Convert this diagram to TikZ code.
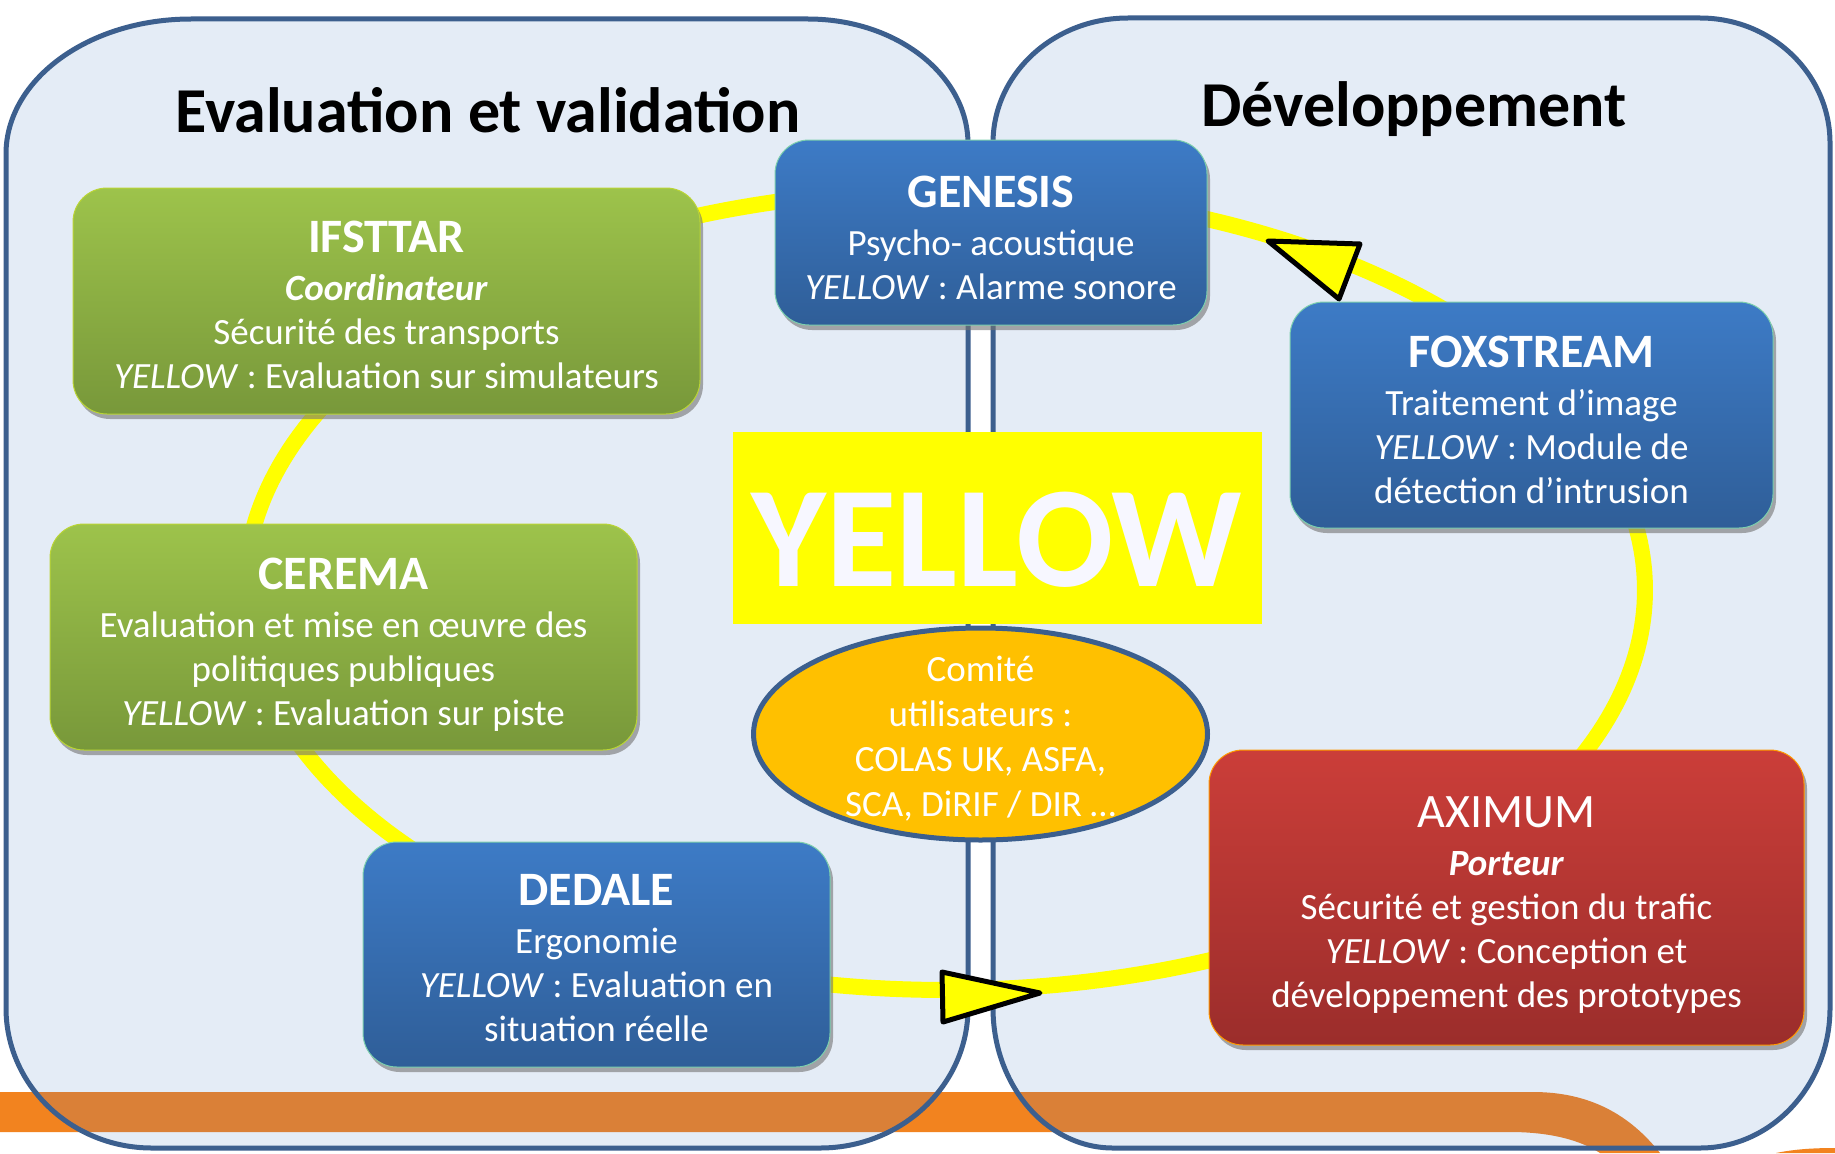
\documentclass[tikz,border=0pt]{standalone}
\usepackage{fontspec}
\setmainfont{Carlito}
\usetikzlibrary{shapes.geometric,shadows}

\definecolor{panelfill}{HTML}{E4ECF6}
\definecolor{panelline}{HTML}{3C5F8E}
\definecolor{bandout}{HTML}{F2831F}
\definecolor{bandin}{HTML}{DA8037}
\definecolor{ringyellow}{HTML}{FFFF00}
\definecolor{greentop}{HTML}{9DC34B}
\definecolor{greenbot}{HTML}{78983A}
\definecolor{bluetop}{HTML}{3D7BC6}
\definecolor{bluebot}{HTML}{2F5E98}
\definecolor{redtop}{HTML}{CB3E39}
\definecolor{redbot}{HTML}{9B2D2B}
\definecolor{comitefill}{HTML}{FFC000}

\newcommand{\txtbody}{\fontsize{37}{44}\selectfont}
\newcommand{\txthead}{\fontsize{48}{44}\selectfont\bfseries}

% outlines of the two large panels (pixel grid, y pointing down)
\newcommand{\leftpanel}{(191,19) -- (808,19) .. controls (896.4,19) and (968,75) .. (968,144)
  -- (968,1008) .. controls (968,1085.3) and (901.7,1148) .. (820,1148)
  -- (152,1148) .. controls (71.4,1148) and (6,1085.3) .. (6,1008)
  -- (6,154) .. controls (6,79.4) and (88.8,19) .. (191,19) -- cycle}
\newcommand{\rightpanel}{(1128,18) -- (1700,18) .. controls (1771.8,18) and (1830,74) .. (1830,143)
  -- (1830,1008) .. controls (1830,1085.3) and (1771.8,1148) .. (1700,1148)
  -- (1113,1148) .. controls (1046.7,1148) and (993,1085.3) .. (993,1008)
  -- (993,143) .. controls (993,74) and (1053.4,18) .. (1128,18) -- cycle}
% orange band running along the bottom
\newcommand{\orangeband}{(0,1092) -- (1533,1092) .. controls (1590,1092) and (1630,1115) .. (1660,1153)
  -- (1600,1153) .. controls (1580,1140) and (1550,1132) .. (1510,1132) -- (0,1132) -- cycle}
% one stretch of the yellow ring, between two angles
\newcommand{\ringpart}[2]{plot[domain=#1:#2, samples=40] ({945+700*cos(\x)},{590+400*sin(\x)})}

\tikzset{
  panel/.style={draw=panelline, line width=5pt},
  ringline/.style={draw=ringyellow, line width=16pt},
  orgbox/.style={rectangle, rounded corners=34pt, inner sep=0pt, line width=1pt,
    drop shadow={shadow xshift=3pt, shadow yshift=-5pt, fill=black!55, opacity=0.6}},
  greenbox/.style={orgbox, top color=greentop, bottom color=greenbot, draw=greentop!70!yellow},
  bluebox/.style={orgbox, top color=bluetop, bottom color=bluebot, draw=bluetop!60!green!60!white},
  redbox/.style={orgbox, top color=redtop, bottom color=redbot, draw=orange!80!yellow},
  boxtext/.style={align=center, text=white, font=\txtbody, inner sep=0pt},
  paneltitle/.style={anchor=base, font=\fontsize{64}{66}\selectfont\bfseries, text=black, inner sep=0pt},
  tri/.style={fill=ringyellow, draw=black, line width=5pt, line join=round}
}

\begin{document}
\begin{tikzpicture}[x=1pt,y=-1pt]
\useasboundingbox (0,0) rectangle (1835,1153);
\fill[white] (0,0) rectangle (1835,1153);

% bottom band, then panels over it
\fill[bandout] \orangeband;
\fill[bandout] (1776,1153) .. controls (1795,1149) and (1815,1148) .. (1835,1148) -- (1835,1153) -- cycle;
\fill[panelfill] \leftpanel;
\fill[panelfill] \rightpanel;
\begin{scope}
  \clip \leftpanel;
  \fill[bandin] \orangeband;
\end{scope}
\begin{scope}
  \clip \rightpanel;
  \fill[bandin] \orangeband;
\end{scope}
\draw[panel] \leftpanel;
\draw[panel] \rightpanel;

% panel titles
\node[paneltitle] (evaltitle) at (488,132) {Evaluation et validation};
\node[paneltitle] (devtitle) at (1414,126) {Développement};

% yellow ring linking the partners; each stretch ends under the boxes it joins
\draw[ringline] \ringpart{240}{265};  % IFSTTAR - GENESIS
\draw[ringline] \ringpart{285}{320};  % GENESIS - FOXSTREAM
\draw[ringline] \ringpart{-10}{30};   % FOXSTREAM - AXIMUM
\draw[ringline] \ringpart{60}{105};   % AXIMUM - DEDALE
\draw[ringline] \ringpart{125}{160};  % DEDALE - CEREMA
\draw[ringline] \ringpart{175}{220};  % CEREMA - IFSTTAR

% partner boxes
\node[greenbox, minimum width=627, minimum height=226] (ifsttar) at (386.5,301) {};
\node[bluebox, minimum width=432, minimum height=185] (genesis) at (991,232.5) {};
\node[bluebox, minimum width=483, minimum height=226] (foxstream) at (1531.5,415) {};
\node[greenbox, minimum width=587, minimum height=226] (cerema) at (343.5,637) {};
\node[bluebox, minimum width=467, minimum height=225] (dedale) at (596.5,954.5) {};
\node[redbox, minimum width=595, minimum height=295] (aximum) at (1506.5,897.5) {};

% central label and users' committee
\node[fill=ringyellow, minimum width=529, minimum height=192, inner sep=0pt] (yellowbox) at (997.5,528) {};
\node[anchor=base, text=white!97!blue, font=\fontsize{144}{144}\selectfont\bfseries, inner sep=0pt] (yellowword) at (997,586) {YELLOW};
\node[ellipse, fill=comitefill, draw=panelline, line width=5pt, minimum width=454, minimum height=212, inner sep=0pt] (comite) at (980.5,734) {};
\node[boxtext, font=\fontsize{37}{45}\selectfont] (comite-txt) at ([yshift=-4.5pt]comite.center) {Comité\\utilisateurs :\\COLAS UK, ASFA,\\SCA, DiRIF / DIR …};

% box texts
\node[boxtext] (ifsttar-txt) at ([yshift=-3.5pt]ifsttar.center) {{\txthead IFSTTAR}\\[4pt]\textbf{\textit{Coordinateur}}\\Sécurité des transports\\\textit{YELLOW} : Evaluation sur simulateurs};
\node[boxtext] (genesis-txt) at ([yshift=-5pt]genesis.center) {{\txthead GENESIS}\\[4pt]Psycho- acoustique\\\textit{YELLOW} : Alarme sonore};
\node[boxtext] (foxstream-txt) at ([yshift=-4.5pt]foxstream.center) {{\txthead FOXSTREAM}\\[4pt]Traitement d’image\\\textit{YELLOW} : Module de\\détection d’intrusion};
\node[boxtext] (cerema-txt) at ([yshift=-8pt]cerema.center) {{\txthead CEREMA}\\[4pt]Evaluation et mise en œuvre des\\politiques publiques\\\textit{YELLOW} : Evaluation sur piste};
\node[boxtext] (dedale-txt) at ([yshift=-3.5pt]dedale.center) {{\txthead DEDALE}\\[4pt]Ergonomie\\\textit{YELLOW} : Evaluation en\\situation réelle};
\node[boxtext] (aximum-txt) at ([yshift=-8pt]aximum.center) {{\fontsize{48}{44}\selectfont AXIMUM}\\[4pt]\textbf{\textit{Porteur}}\\Sécurité et gestion du trafic\\\textit{YELLOW} : Conception et\\développement des prototypes};

% direction marks on the ring
\coordinate (tipA) at (1268,241);
\coordinate (tipB) at (1040,993);
\filldraw[tri] (tipA) -- (1360,244) -- (1339,299) -- cycle;
\filldraw[tri] (tipB) -- (943,1022) -- (942,972) -- cycle;

\end{tikzpicture}
\end{document}
